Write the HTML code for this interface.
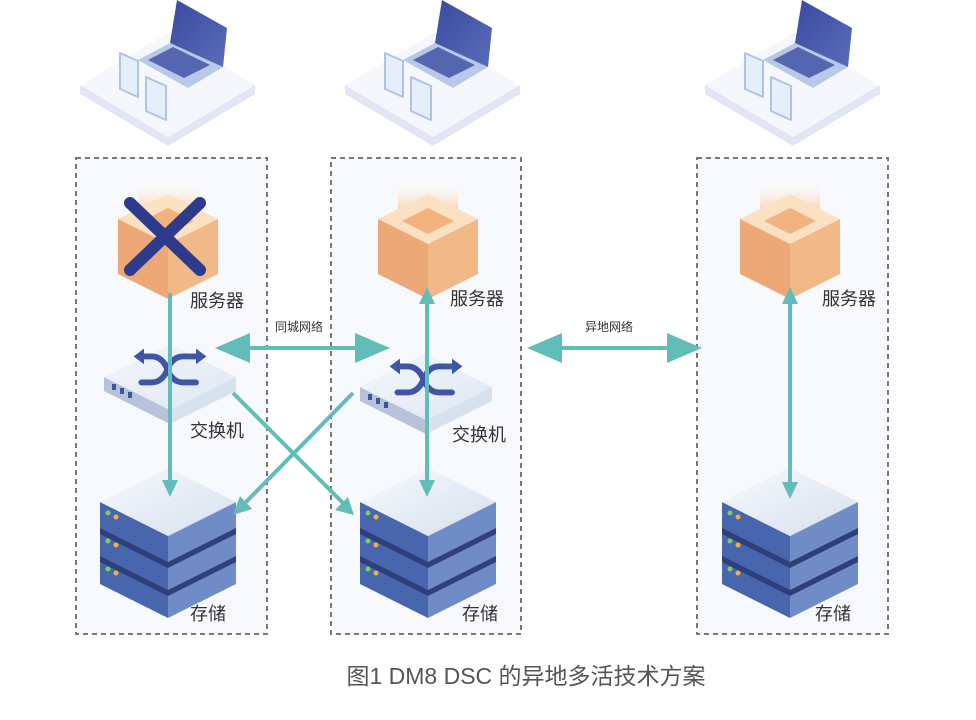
<!DOCTYPE html>
<html><head><meta charset="utf-8"><style>
html,body{margin:0;padding:0;background:#fff}
svg{display:block}
text{font-family:"Liberation Sans","Noto Sans CJK SC",sans-serif}
</style></head><body>
<svg width="976" height="720" viewBox="0 0 976 720" xmlns="http://www.w3.org/2000/svg">
<defs>
<linearGradient id="fade" x1="0" y1="1" x2="0" y2="0"><stop offset="0" stop-color="#f4c9a0"/><stop offset="1" stop-color="#fff" stop-opacity="0"/></linearGradient>
<linearGradient id="swTop" x1="0" y1="0" x2="1" y2="1"><stop offset="0" stop-color="#f4f7fc"/><stop offset="1" stop-color="#dfe6f1"/></linearGradient>
<linearGradient id="stTop" x1="0" y1="0" x2="1" y2="1"><stop offset="0" stop-color="#f7f9fd"/><stop offset="1" stop-color="#d6e0ef"/></linearGradient>
<linearGradient id="scr" x1="0" y1="0" x2="1" y2="1"><stop offset="0" stop-color="#3a4aa0"/><stop offset="1" stop-color="#5a6cb8"/></linearGradient>
<g id="plat">
 <polygon points="-88,0 0,52 87,0 87,9 0,61 -88,9" fill="#e2e5f3"/>
 <polygon points="-88,0 0,-52 87,0 0,52" fill="#f6f7fc"/>
 <polygon points="-30,-25 2,-42 55,-18 20,3" fill="#b8c8e6"/>
 <polygon points="-20,-25 5,-38 42,-20 16,-7" fill="#5466b0"/>
 <polygon points="2,-42 9,-85 59,-57 55,-18" fill="url(#scr)"/>
 <polygon points="-48,-32 -30,-24 -30,12 -48,4" fill="#e6eef9" stroke="#aec3e6" stroke-width="2" stroke-linejoin="round"/>
 <polygon points="-22,-8 -2,1 -2,35 -22,26" fill="#e6eef9" stroke="#aec3e6" stroke-width="2" stroke-linejoin="round"/>
</g>
<g id="cube">
 <polygon points="-30,-65 30,-65 30,-30 -30,-30" fill="url(#fade)"/>
 <polygon points="0,-50 50,-25 0,0 -50,-25" fill="#fbe0c2"/>
 <polygon points="0,-36 26,-23 0,-10 -26,-23" fill="#f1b27d"/>
 <polygon points="-50,-25 0,0 0,55 -50,30" fill="#eca877"/>
 <polygon points="50,-25 0,0 0,55 50,30" fill="#f0b987"/>
</g>
<g id="sw">
 <polygon points="-66,-5 0,28 0,42 -66,9" fill="#b8c3da"/>
 <polygon points="66,-5 0,28 0,42 66,9" fill="#d8e1ee"/>
 <polygon points="0,-38 66,-5 0,28 -66,-5" fill="url(#swTop)"/>
 <rect x="-58" y="2" width="4" height="6" fill="#3f55a0"/><rect x="-50" y="6" width="4" height="6" fill="#3f55a0"/><rect x="-42" y="10" width="4" height="6" fill="#3f55a0"/>
 <g transform="translate(0,-10) scale(1.3)">
 <path d="M-22,-12 h8 q8,0 12,10 q4,10 12,10 h10 M-22,8 h8 q8,0 12,-10 q4,-10 12,-10 h10" fill="none" stroke="#3f55a8" stroke-width="4.5" stroke-linecap="round"/>
 <polygon points="20,-18 28,-12 20,-6" fill="#3f55a8"/><polygon points="-20,-18 -28,-12 -20,-6" fill="#3f55a8"/>
 </g>
</g>
<g id="st">
 <g transform="translate(0,56)"><polygon points="-68,-20 0,14 0,40 -68,6" fill="#4766ad"/><polygon points="68,-20 0,14 0,40 68,6" fill="#6f8cc7"/></g>
 <polygon points="-68,30 0,64 68,30 68,40 0,74 -68,40" fill="#2f3f7a"/>
 <g transform="translate(0,28)"><polygon points="-68,-20 0,14 0,40 -68,6" fill="#4766ad"/><polygon points="68,-20 0,14 0,40 68,6" fill="#6f8cc7"/></g>
 <polygon points="-68,2 0,36 68,2 68,12 0,46 -68,12" fill="#2f3f7a"/>
 <polygon points="-68,-20 0,14 0,40 -68,6" fill="#4766ad"/><polygon points="68,-20 0,14 0,40 68,6" fill="#6f8cc7"/>
 <polygon points="0,-54 68,-20 0,14 -68,-20" fill="url(#stTop)"/>
 <circle cx="-60" cy="-9" r="2.5" fill="#7ccf5c"/><circle cx="-52" cy="-5" r="2.5" fill="#f2b13d"/>
 <circle cx="-60" cy="19" r="2.5" fill="#7ccf5c"/><circle cx="-52" cy="23" r="2.5" fill="#f2b13d"/>
 <circle cx="-60" cy="47" r="2.5" fill="#7ccf5c"/><circle cx="-52" cy="51" r="2.5" fill="#f2b13d"/>
</g>
</defs>
<g fill="#f8f9fd" stroke="#777" stroke-width="2" stroke-dasharray="5,4">
 <rect x="76" y="158" width="191" height="476"/>
 <rect x="331" y="158" width="190" height="476"/>
 <rect x="697" y="158" width="191" height="476"/>
</g>
<use href="#plat" x="168" y="85"/><use href="#plat" x="433" y="85"/><use href="#plat" x="793" y="85"/>
<use href="#cube" x="168" y="244"/><use href="#cube" x="428" y="244"/><use href="#cube" x="790" y="244"/>
<g stroke="#2e3a8c" stroke-width="12" stroke-linecap="round"><line x1="130" y1="203" x2="200" y2="270"/><line x1="200" y1="203" x2="130" y2="270"/></g>
<use href="#sw" x="170" y="382"/><use href="#sw" x="426" y="392"/>
<use href="#st" x="168" y="522"/><use href="#st" x="428" y="522"/><use href="#st" x="790" y="522"/>
<g stroke="#62bdb8" stroke-width="4" fill="none">
 <line x1="170" y1="293" x2="170" y2="482"/>
 <line x1="427" y1="302" x2="427" y2="482"/>
 <line x1="790" y1="302" x2="790" y2="484"/>
 <line x1="245" y1="348" x2="362" y2="348"/>
 <line x1="560" y1="348" x2="672" y2="348"/>
 <line x1="233" y1="393" x2="343" y2="503"/>
 <line x1="353" y1="393" x2="245" y2="503"/>
</g>
<g fill="#62bdb8">
 <polygon points="162,480 178,480 170,497"/>
 <polygon points="419,480 435,480 427,497"/><polygon points="419,304 435,304 427,287"/>
 <polygon points="782,482 798,482 790,499"/><polygon points="782,304 798,304 790,287"/>
 <polygon points="215,348 250,333 250,363"/><polygon points="390,348 355,333 355,363"/>
 <polygon points="527,348 562,333 562,363"/><polygon points="702,348 667,333 667,363"/>
 <polygon points="354,515 335,510 348,497"/><polygon points="233,515 240,496 252,509"/>
</g>
<g font-size="18" fill="#333">
 <text x="190" y="307">服务器</text><text x="190" y="437">交换机</text><text x="190" y="620">存储</text>
 <text x="450" y="305">服务器</text><text x="452" y="441">交换机</text><text x="462" y="620">存储</text>
 <text x="822" y="305">服务器</text><text x="815" y="620">存储</text>
</g>
<g font-size="12" fill="#333"><text x="275" y="331">同城网络</text><text x="585" y="331">异地网络</text></g>
<text x="526" y="684" font-size="23" fill="#555" text-anchor="middle">图1 DM8 DSC 的异地多活技术方案</text>
</svg>
</body></html>
